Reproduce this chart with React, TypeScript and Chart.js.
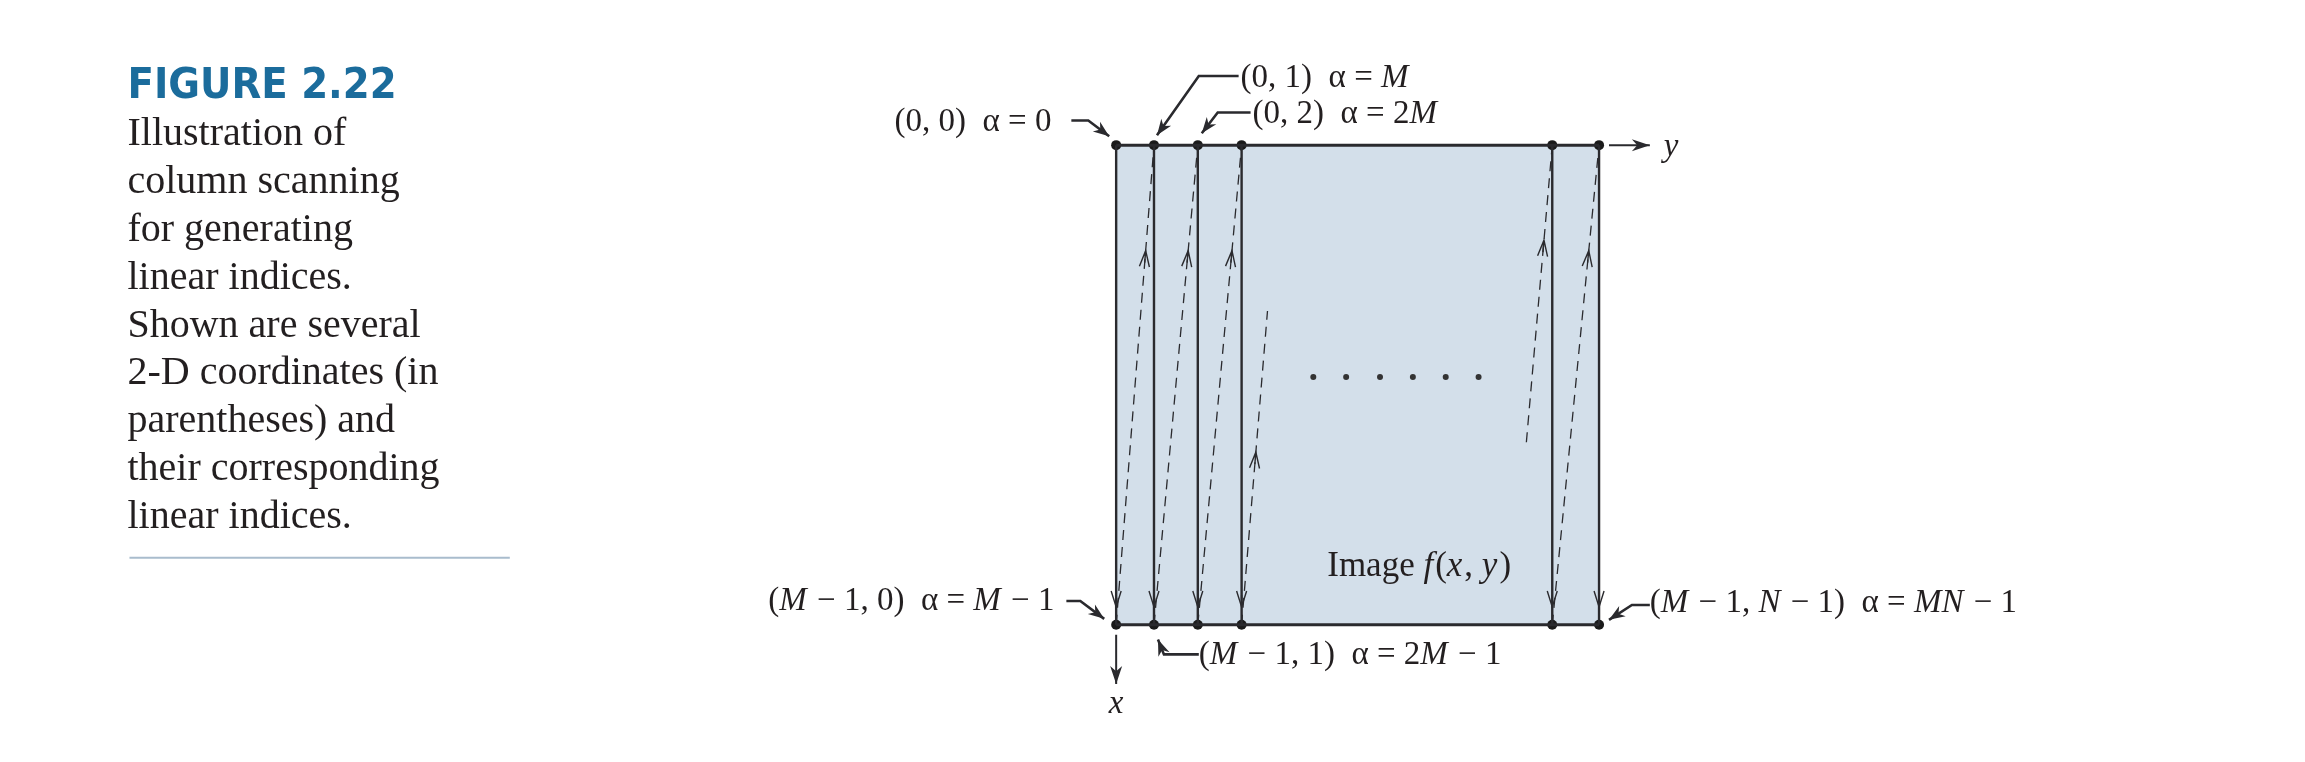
import React, { useEffect, useRef } from "react";
import { Chart, registerables } from "chart.js";
Chart.register(...registerables);

// ---- data (chart units = picture pixels) ----
const columnPositions = [1116, 1154, 1198, 1242, 1554, 1601];
const rowTop = 142;
const rowBottom = 628;
const dashedScans = [
  [1116, 628, 1154, 142],
  [1154, 628, 1198, 142],
  [1198, 628, 1242, 142],
  [1242, 628, 1268, 310],
  [1528, 443, 1554, 142],
  [1554, 628, 1601, 142],
];
const scanArrowAt = [0.78, 0.78, 0.78, 0.55, 0.68, 0.78];
const ellipsisX = [1314, 1347, 1381, 1414, 1447, 1480];
const ellipsisY = 377;
const leaders = [
  [[1071, 117], [1088, 117], [1109, 133]],
  [[1239, 72], [1199, 72], [1157, 132]],
  [[1251, 109], [1218, 109], [1202, 130]],
  [[1066, 604], [1080, 604], [1104, 622]],
  [[1199, 658], [1164, 658], [1158, 643]],
  [[1652, 608], [1634, 608], [1611, 623]],
];
const yAxisLine = [[1611, 142], [1652, 142]];
const xAxisLine = [[1116, 638], [1116, 688]];

type Part = [string, boolean];
const diagramLabels: { x: number; y: number; align: string; parts: Part[] }[] = [
  { x: 1051, y: 128, align: "right", parts: [["(0, 0)  α = 0", false]] },
  { x: 1241, y: 83, align: "left", parts: [["(0, 1)  α = ", false], ["M", true]] },
  { x: 1253, y: 120, align: "left", parts: [["(0, 2)  α = 2", false], ["M", true]] },
  { x: 1050, y: 613, align: "right", parts: [["(", false], ["M", true], [" − 1, 0)  α = ", false], ["M", true], [" − 1", false]] },
  { x: 1199, y: 668, align: "left", parts: [["(", false], ["M", true], [" − 1, 1)  α = 2", false], ["M", true], [" − 1", false]] },
  { x: 1652, y: 615, align: "left", parts: [["(", false], ["M", true], [" − 1, ", false], ["N", true], [" − 1)  α = ", false], ["MN", true], [" − 1", false]] },
];
const captionTitle = "FIGURE 2.22";
const captionLines = [
  "Illustration of",
  "column scanning",
  "for generating",
  "linear indices.",
  "Shown are several",
  "2-D coordinates (in",
  "parentheses) and",
  "their corresponding",
  "linear indices.",
];

const INK = "#2a2a2e";
const SERIF = "'Liberation Serif', 'DejaVu Serif', serif";

function seg(pts: number[][], extra: any = {}) {
  return {
    type: "scatter" as const,
    data: pts.map(([x, y]) => ({ x, y })),
    showLine: true,
    borderColor: INK,
    borderWidth: 2.5,
    pointRadius: 0,
    ...extra,
  };
}

export default function App() {
  const ref = useRef<HTMLCanvasElement>(null);
  useEffect(() => {
    document.body.style.margin = "0";
    const datasets: any[] = [];
    datasets.push(seg([[columnPositions[0], rowTop], [columnPositions[5], rowTop]], { borderWidth: 3 }));
    datasets.push(seg([[columnPositions[0], rowBottom], [columnPositions[5], rowBottom]], { borderWidth: 3 }));
    columnPositions.forEach((c) => datasets.push(seg([[c, rowTop], [c, rowBottom]], { borderWidth: 2.4 })));
    dashedScans.forEach(([a, b, c, d]) =>
      datasets.push(seg([[a, b], [c, d]], { borderWidth: 1.3, borderDash: [10, 7] }))
    );
    leaders.forEach((l) => datasets.push(seg(l, { borderWidth: 2.6 })));
    datasets.push(seg(yAxisLine, { borderWidth: 2 }));
    datasets.push(seg(xAxisLine, { borderWidth: 2 }));
    datasets.push({
      type: "scatter",
      data: columnPositions.flatMap((c) => [{ x: c, y: rowTop }, { x: c, y: rowBottom }]),
      pointRadius: 5,
      pointBackgroundColor: "#1a1a1a",
      pointBorderWidth: 0,
    });
    datasets.push({
      type: "scatter",
      data: ellipsisX.map((x) => ({ x, y: ellipsisY })),
      pointRadius: 3,
      pointBackgroundColor: "#333",
      pointBorderWidth: 0,
    });

    const plugin = {
      id: "diagram",
      beforeDatasetsDraw(chart: any) {
        const { ctx, scales } = chart;
        const X = (v: number) => scales.x.getPixelForValue(v);
        const Y = (v: number) => scales.y.getPixelForValue(v);
        ctx.save();
        ctx.fillStyle = "#d3dfea";
        ctx.fillRect(X(columnPositions[0]), Y(rowTop), X(columnPositions[5]) - X(columnPositions[0]), Y(rowBottom) - Y(rowTop));
        ctx.restore();
      },
      afterDatasetsDraw(chart: any) {
        const { ctx, scales } = chart;
        const X = (v: number) => scales.x.getPixelForValue(v);
        const Y = (v: number) => scales.y.getPixelForValue(v);
        const filledHead = (x1: number, y1: number, x2: number, y2: number, len = 16, w = 6) => {
          const ang = Math.atan2(Y(y2) - Y(y1), X(x2) - X(x1));
          ctx.save();
          ctx.translate(X(x2), Y(y2));
          ctx.rotate(ang);
          ctx.beginPath();
          ctx.moveTo(0, 0);
          ctx.lineTo(-len, -w);
          ctx.lineTo(-len * 0.7, 0);
          ctx.lineTo(-len, w);
          ctx.closePath();
          ctx.fillStyle = INK;
          ctx.fill();
          ctx.restore();
        };
        const openHead = (px: number, py: number, ang: number, len = 16, w = 5) => {
          ctx.save();
          ctx.translate(px, py);
          ctx.rotate(ang);
          ctx.beginPath();
          ctx.moveTo(-len, -w);
          ctx.lineTo(0, 0);
          ctx.lineTo(-len, w);
          ctx.moveTo(0, 0);
          ctx.lineTo(-len * 0.75, 0);
          ctx.strokeStyle = INK;
          ctx.lineWidth = 1.4;
          ctx.stroke();
          ctx.restore();
        };
        leaders.forEach((l) => {
          const n = l.length;
          filledHead(l[n - 2][0], l[n - 2][1], l[n - 1][0], l[n - 1][1]);
        });
        filledHead(yAxisLine[0][0], yAxisLine[0][1], yAxisLine[1][0], yAxisLine[1][1], 18, 6);
        filledHead(xAxisLine[0][0], xAxisLine[0][1], xAxisLine[1][0], xAxisLine[1][1], 18, 6);
        columnPositions.forEach((c) => openHead(X(c), Y(rowBottom - 18), Math.PI / 2));
        dashedScans.forEach(([a, b, c, d], i) => {
          const t = scanArrowAt[i];
          const px = X(a) + (X(c) - X(a)) * t;
          const py = Y(b) + (Y(d) - Y(b)) * t;
          openHead(px, py, Math.atan2(Y(d) - Y(b), X(c) - X(a)));
        });

        // texts
        const drawParts = (x: number, y: number, parts: Part[], size: number, align: string) => {
          const fontOf = (it: boolean) => `${it ? "italic " : ""}${size}px ${SERIF}`;
          let total = 0;
          parts.forEach(([t, it]) => { ctx.font = fontOf(it); total += ctx.measureText(t).width; });
          let cx = align === "right" ? x - total : align === "center" ? x - total / 2 : x;
          ctx.textAlign = "left";
          ctx.textBaseline = "alphabetic";
          parts.forEach(([t, it]) => {
            ctx.font = fontOf(it);
            ctx.fillText(t, cx, y);
            cx += ctx.measureText(t).width + (it ? 2 : 0);
          });
        };
        ctx.save();
        ctx.fillStyle = "#231f20";
        diagramLabels.forEach((l) => drawParts(X(l.x), Y(l.y), l.parts, 33, l.align));
        drawParts(X(1328), Y(579), [["Image ", false], ["f", true], ["(", false], ["x", true], [", ", false], ["y", true], [")", false]], 35, "left");
        drawParts(X(1116), Y(717), [["x", true]], 33, "center");
        drawParts(X(1666), Y(153), [["y", true]], 33, "left");

        ctx.fillStyle = "#1b6c9c";
        ctx.font = `bold 43px 'Liberation Sans Narrow', 'DejaVu Sans Condensed', sans-serif`;
        ctx.fillText(captionTitle, X(123), Y(94));
        ctx.fillStyle = "#231f20";
        ctx.font = `40px ${SERIF}`;
        captionLines.forEach((t, i) => ctx.fillText(t, X(123), Y(142 + i * 48.5)));
        ctx.strokeStyle = "#a9bccd";
        ctx.lineWidth = 2;
        ctx.beginPath();
        ctx.moveTo(X(125), Y(560));
        ctx.lineTo(X(507), Y(560));
        ctx.stroke();
        ctx.restore();
      },
    };

    const chart = new Chart(ref.current!, {
      type: "scatter",
      data: { datasets },
      options: {
        animation: false,
        responsive: false,
        maintainAspectRatio: false,
        layout: { padding: 0 },
        plugins: { legend: { display: false }, tooltip: { enabled: false } },
        scales: {
          x: { type: "linear", min: 0, max: 2305, display: false },
          y: { type: "linear", min: 0, max: 762, reverse: true, display: false },
        },
      },
      plugins: [plugin],
    });
    return () => chart.destroy();
  }, []);
  return <canvas ref={ref} width={2305} height={762} style={{ display: "block", width: 2305, height: 762 }} />;
}
